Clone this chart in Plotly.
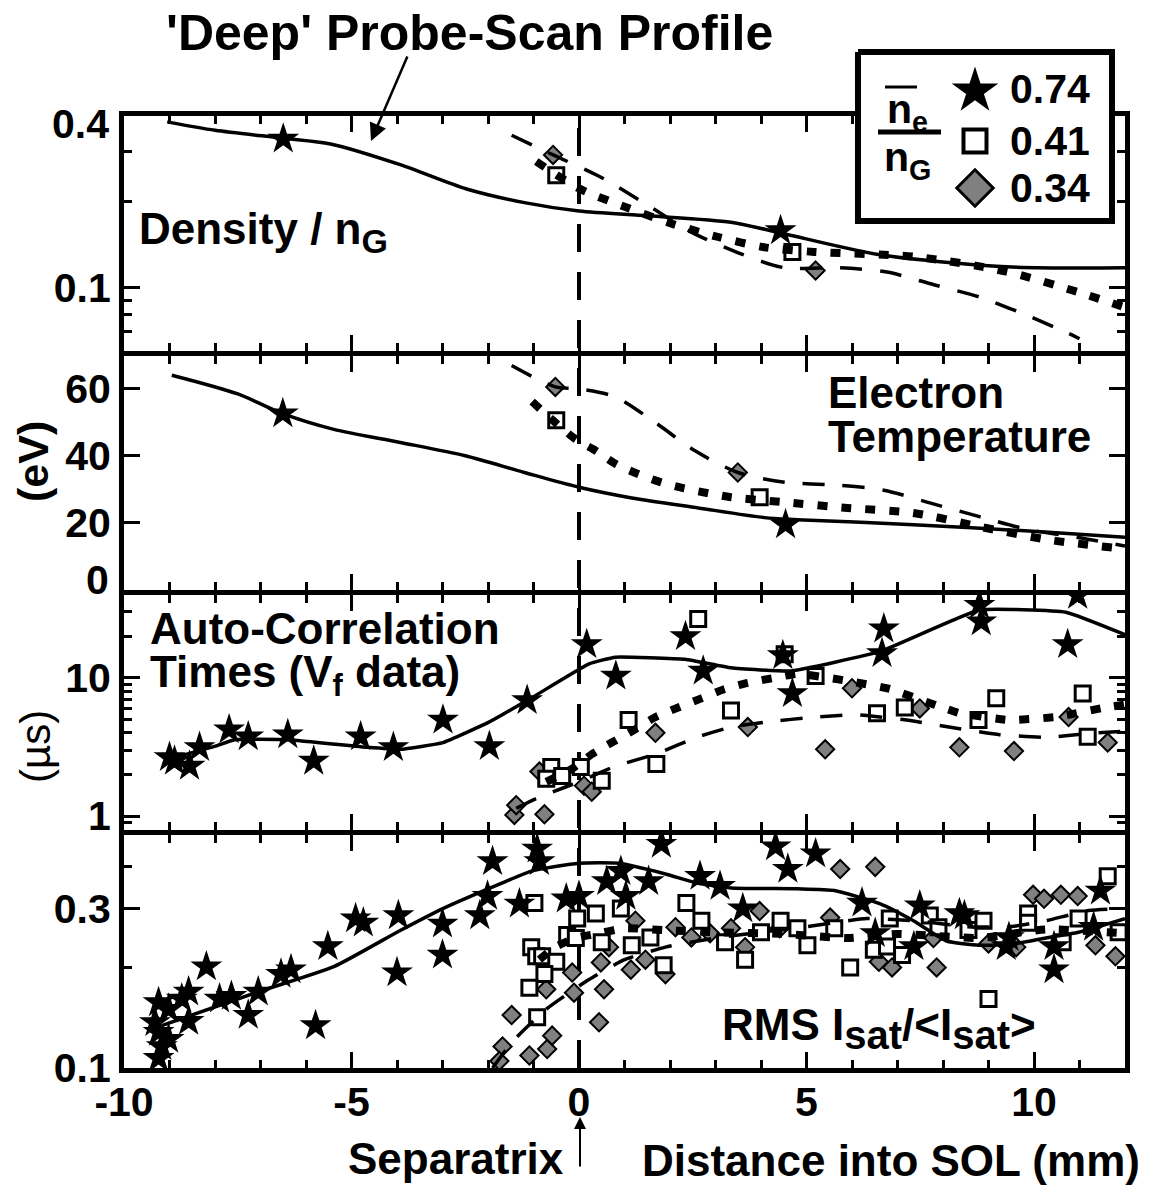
import math
import plotly.graph_objects as go

FONT = "Liberation Sans, Arial, Helvetica, sans-serif"

# ------------------------------------------------------------------ data
X_RANGE = [-10, 12]
X_TICKS = [-10, -5, 0, 5, 10]
X_TICKTEXT = ["-10", "-5", "0", "5", "10"]
SEPARATRIX_X = 0.0
LEGEND_LABELS = ["0.74", "0.41", "0.34"]

# Panel 1: Density / n_G  (log)
p1_star_x = [-6.5, 4.43]
p1_star_y = [0.331, 0.158]
p1_sq_x = [-0.5, 4.69]
p1_sq_y = [0.247, 0.133]
p1_dia_x = [-0.57, 5.2]
p1_dia_y = [0.291, 0.1144]
p1_solid_x = [-9.05, -8.0, -6.5, -5.46, -3.93, -2.47, -1.2, 0.0, 1.53, 3.34, 4.43, 6.62, 9.39, 12.0]
p1_solid_y = [0.38, 0.355, 0.333, 0.318, 0.269, 0.221, 0.198, 0.185, 0.178, 0.169, 0.155, 0.130, 0.118, 0.117]
p1_dot_x = [-0.94, 0.0, 1.02, 2.04, 3.06, 4.08, 5.17, 7.35, 9.39, 10.98, 12.0]
p1_dot_y = [0.276, 0.222, 0.191, 0.167, 0.150, 0.138, 0.133, 0.128, 0.1135, 0.096, 0.085]
p1_dash_x = [-1.48, -0.57, 0.44, 1.6, 2.47, 3.5, 4.52, 5.74, 6.77, 7.8, 8.8, 9.76, 10.76, 11.0]
p1_dash_y = [0.341, 0.291, 0.245, 0.190, 0.156, 0.132, 0.117, 0.117, 0.113, 0.102, 0.0924, 0.0807, 0.0689, 0.066]

# Panel 2: Electron temperature (eV)
p2_star_x = [-6.51, 4.54]
p2_star_y = [52.6, 19.4]
p2_sq_x = [-0.5, 3.97]
p2_sq_y = [50.6, 27.6]
p2_dia_x = [-0.52, 3.49]
p2_dia_y = [60.6, 35.0]
p2_solid_x = [-8.95, -7.5, -6.51, -5.39, -3.93, -2.5, -1.2, 0.0, 1.16, 2.62, 4.08, 4.8, 7.35, 9.98, 12.0]
p2_solid_y = [64.1, 58.5, 52.6, 47.9, 44.0, 40.0, 35.0, 30.6, 27.4, 24.4, 21.5, 20.9, 19.4, 17.4, 15.6]
p2_dot_x = [-1.03, -0.11, 0.37, 0.8, 1.27, 1.79, 2.29, 2.84, 3.34, 4.43, 5.9, 7.35, 8.8, 10.26, 12.0]
p2_dot_y = [56.2, 45.3, 41.5, 37.6, 34.7, 32.1, 30.3, 28.8, 27.6, 26.2, 24.4, 22.9, 18.8, 15.0, 12.1]
p2_dash_x = [-1.48, -0.52, 0.0, 0.8, 1.7, 2.55, 3.49, 4.52, 5.68, 6.7, 7.71, 8.8, 9.89, 11.0, 12.0]
p2_dash_y = [67.0, 60.6, 60.0, 57.6, 49.7, 41.5, 35.0, 32.1, 31.2, 29.7, 25.9, 21.8, 17.9, 15.5, 13.0]

# Panel 3: Auto-correlation times (us)  (log)
p3_star_x = [-9.0, -8.89, -8.56, -8.34, -7.69, -7.27, -6.40, -5.83, -4.80, -4.08, -2.99, -1.97, -1.14,
             0.17, 0.81, 2.34, 2.73, 4.48, 4.69, 6.70, 6.66, 8.80, 8.84, 10.74, 10.96]
p3_star_y = [2.66, 2.50, 2.30, 3.14, 4.21, 3.75, 3.88, 2.50, 3.75, 3.14, 4.95, 3.19, 6.87,
             17.4, 10.3, 19.9, 11.2, 14.5, 7.7, 22.6, 15.0, 33.5, 25.4, 17.4, 39.5]
p3_sq_x = [2.62, 1.09, -0.61, -0.72, -0.37, 0.04, 0.5, 1.7, 3.34, 4.52, 5.2, 6.55, 7.16, 9.17, 8.78, 11.07, 11.18]
p3_sq_y = [26.6, 4.95, 2.26, 1.86, 1.95, 2.26, 1.8, 2.38, 5.8, 14.8, 10.3, 5.55, 6.1, 7.1, 4.95, 7.7, 3.75]
p3_dia_x = [-1.42, -1.38, -0.76, -0.87, 0.11, 0.28, 1.68, 3.71, 6.0, 5.41, 7.49, 8.36, 9.56, 10.76, 11.62]
p3_dia_y = [1.02, 1.2, 1.03, 2.1, 1.66, 1.5, 4.0, 4.4, 8.4, 3.04, 6.0, 3.14, 2.95, 5.2, 3.4]
p3_solid_x = [-9.0, -8.01, -7.57, -6.4, -4.65, -3.93, -2.99, -1.97, -1.03, 0.22, 0.8, 2.33, 3.34, 4.65, 6.62, 8.8, 10.7, 12.0]
p3_solid_y = [2.6, 3.19, 3.57, 3.57, 3.14, 3.04, 3.40, 4.8, 7.2, 12.6, 14.1, 13.6, 11.8, 11.2, 15.5, 30.9, 29.8, 20.5]
p3_dot_x = [-0.72, -0.15, 0.28, 0.72, 1.16, 1.68, 2.18, 2.69, 3.2, 3.71, 4.3, 4.8, 5.9, 6.83, 7.86, 8.36, 9.45, 10.48, 11.57, 12.0]
p3_dot_y = [1.77, 2.2, 2.8, 3.4, 4.1, 5.2, 6.1, 7.1, 8.3, 9.2, 10.0, 10.7, 9.5, 8.3, 6.3, 5.55, 4.95, 5.2, 6.1, 6.4]
p3_dash_x = [-1.38, -0.94, -0.28, 0.15, 0.8, 1.68, 2.62, 3.34, 4.15, 5.17, 6.1, 7.2, 8.23, 9.24, 10.26, 11.35, 12.0]
p3_dash_y = [1.14, 1.34, 1.63, 1.86, 2.3, 2.8, 3.75, 4.4, 4.8, 5.2, 5.4, 4.95, 4.35, 3.88, 3.7, 4.0, 4.1]

# Panel 4: RMS Isat/<Isat>  (log)
p4_star_x = [-9.24, -9.17, -9.24, -9.32, -9.24, -9.02, -9.02, -8.73, -8.58, -8.58, -8.19, -7.90, -7.64, -7.27,
             -7.05, -6.55, -6.33, -5.79, -5.52, -4.91, -4.74, -3.97, -4.0, -3.0, -3.0, -2.18, -2.01, -1.90,
             -1.31, -0.92, -0.87, -0.28, 0.0, 0.61, 0.92, 1.03, 1.53, 1.81, 2.66, 3.10, 3.60, 4.32, 4.59,
             5.20, 6.22, 6.51, 7.49, 7.36, 8.36, 8.47, 9.45, 9.39, 10.44, 10.44, 11.46, 11.31]
p4_star_y = [0.107, 0.116, 0.128, 0.137, 0.157, 0.150, 0.122, 0.161, 0.169, 0.138, 0.201, 0.161, 0.164, 0.144,
             0.169, 0.191, 0.197, 0.134, 0.231, 0.280, 0.272, 0.286, 0.193, 0.270, 0.218, 0.286, 0.327, 0.415,
             0.310, 0.453, 0.415, 0.321, 0.327, 0.362, 0.388, 0.327, 0.362, 0.468, 0.375, 0.350, 0.300, 0.460, 0.394,
             0.438, 0.312, 0.253, 0.306, 0.231, 0.290, 0.286, 0.246, 0.231, 0.231, 0.197, 0.339, 0.264]
p4_sq_x = [-0.98, -1.05, -0.94, -0.81, -0.50, -0.76, -1.09, -0.92, -0.26, -0.07, -0.04, 0.37, 0.50, 0.92, 1.16,
           1.57, 1.86, 2.36, 2.69, 3.21, 3.65, 4.0, 4.43, 4.80, 5.02, 5.61, 5.96, 6.48, 6.77, 6.83, 7.10, 7.71,
           7.90, 8.56, 8.89, 9.0, 9.87, 9.87, 10.63, 10.98, 11.62, 11.86]
p4_sq_y = [0.312, 0.230, 0.216, 0.216, 0.208, 0.191, 0.174, 0.142, 0.250, 0.245, 0.280, 0.290, 0.238, 0.300, 0.233,
           0.246, 0.203, 0.312, 0.276, 0.238, 0.211, 0.255, 0.276, 0.262, 0.233, 0.262, 0.200, 0.226, 0.231, 0.280, 0.218, 0.286,
           0.264, 0.259, 0.276, 0.161, 0.290, 0.272, 0.238, 0.280, 0.375, 0.255]
p4_dia_x = [-1.68, -1.75, -1.48, -1.09, -0.70, -0.59, -0.72, -0.15, -0.11, 0.44, 0.55, 0.48, 0.66, 1.14, 1.24,
            1.46, 1.90, 2.12, 2.47, 2.88, 3.34, 3.65, 3.97, 4.41, 5.74, 6.51, 5.52, 6.59, 6.88, 7.79, 7.86, 9.0,
            9.61, 9.98, 10.22, 10.59, 10.96, 11.35, 11.79]
p4_dia_y = [0.116, 0.105, 0.144, 0.109, 0.114, 0.125, 0.172, 0.193, 0.168, 0.137, 0.172, 0.207, 0.230, 0.197, 0.276,
            0.211, 0.191, 0.264, 0.246, 0.253, 0.262, 0.230, 0.295, 0.262, 0.394, 0.400, 0.282, 0.208, 0.200, 0.245, 0.200, 0.236,
            0.230, 0.330, 0.321, 0.330, 0.327, 0.233, 0.216]
p4_solid_x = [-9.17, -7.05, -5.39, -3.93, -2.99, -1.75, -1.03, 0.0, 0.87, 1.9, 2.62, 3.34, 4.8, 5.61, 6.62, 7.35,
              8.08, 8.8, 9.54, 10.26, 10.98, 12.0]
p4_solid_y = [0.134, 0.169, 0.201, 0.258, 0.300, 0.355, 0.389, 0.410, 0.410, 0.381, 0.357, 0.346, 0.344, 0.340, 0.310, 0.276,
              0.240, 0.233, 0.235, 0.245, 0.255, 0.280]
p4_dot_x = [-0.87, -0.5, -0.07, 0.44, 1.0, 2.0, 3.0, 4.5, 5.9, 7.0, 8.8, 10.26, 12.0]
p4_dot_y = [0.211, 0.231, 0.245, 0.253, 0.262, 0.258, 0.255, 0.252, 0.245, 0.252, 0.245, 0.260, 0.253]
p4_dash_x = [-1.9, -1.46, -0.72, 0.22, 1.0, 1.9, 3.0, 4.0, 5.0, 6.33, 7.5, 8.5, 9.5, 10.26, 11.2, 12.0]
p4_dash_y = [0.100, 0.120, 0.150, 0.184, 0.211, 0.230, 0.245, 0.255, 0.265, 0.280, 0.275, 0.265, 0.265, 0.276, 0.296, 0.300]

# ------------------------------------------------------------------ styles
STAR = dict(symbol="star", size=24, color="black", line=dict(width=0))
SQUARE = dict(symbol="square", size=15, color="white", line=dict(color="black", width=3))
DIAMOND = dict(symbol="diamond", size=14, color="#808080", line=dict(color="black", width=2))
SOLID = dict(color="black", width=3.5)
DOTTED = dict(color="black", width=8, dash="10px,14px")
DASHED = dict(color="black", width=3.5, dash="22px,18px")

fig = go.Figure()

panels = [
    ("x", "y", (p1_star_x, p1_star_y), (p1_sq_x, p1_sq_y), (p1_dia_x, p1_dia_y),
     (p1_solid_x, p1_solid_y), (p1_dot_x, p1_dot_y), (p1_dash_x, p1_dash_y), 0.8),
    ("x2", "y2", (p2_star_x, p2_star_y), (p2_sq_x, p2_sq_y), (p2_dia_x, p2_dia_y),
     (p2_solid_x, p2_solid_y), (p2_dot_x, p2_dot_y), (p2_dash_x, p2_dash_y), 0.8),
    ("x3", "y3", (p3_star_x, p3_star_y), (p3_sq_x, p3_sq_y), (p3_dia_x, p3_dia_y),
     (p3_solid_x, p3_solid_y), (p3_dot_x, p3_dot_y), (p3_dash_x, p3_dash_y), 0.35),
    ("x4", "y4", (p4_star_x, p4_star_y), (p4_sq_x, p4_sq_y), (p4_dia_x, p4_dia_y),
     (p4_solid_x, p4_solid_y), (p4_dot_x, p4_dot_y), (p4_dash_x, p4_dash_y), 0.5),
]

for xa, ya, st, sq, di, so, do, da, sm in panels:
    for (px, py), mk in ((di, DIAMOND), (sq, SQUARE), (st, STAR)):
        fig.add_trace(go.Scatter(x=px, y=py, mode="markers", marker=mk, xaxis=xa, yaxis=ya,
                                 showlegend=False, hoverinfo="skip"))
    for (lx, ly), ls in ((so, SOLID), (do, DOTTED), (da, DASHED)):
        fig.add_trace(go.Scatter(x=lx, y=ly, mode="lines", line=dict(**ls, shape="spline", smoothing=sm),
                                 xaxis=xa, yaxis=ya, showlegend=False, hoverinfo="skip"))

# ---------------------------------------------------------- geometry (pixels)
W, H = 1153, 1188
LW = 5
ML, MR, MT, MB = 124, 28, 0, 120
PW = W - ML - MR
PH = H - MT - MB  # plot-area height in px (top of plot area at y=0)
BOUND = [113, 353, 592, 832]  # centres of panel separating lines (px from top)


def fy(py):
    """pixel-from-top -> paper fraction"""
    return (H - MB - py) / PH


def fx(px):
    return (px - ML) / PW


dom = {
    "y": [fy(BOUND[1] - LW / 2), fy(BOUND[0] + LW / 2)],
    "y2": [fy(BOUND[2] - LW / 2), fy(BOUND[1] + LW / 2)],
    "y3": [fy(BOUND[3] - LW / 2), fy(BOUND[2] + LW / 2)],
    "y4": [0.0, fy(BOUND[3] + LW / 2)],
}

# legend frame + keys (overlay axes in pixel units)
fig.add_trace(go.Scatter(x=[858, 1112, 1112, 858, 858], y=[52, 52, 221, 221, 52], mode="lines",
                         fill="toself", fillcolor="white", line=dict(color="black", width=6),
                         xaxis="x5", yaxis="y5", showlegend=False, hoverinfo="skip"))
leg_y = [91, 141, 188]
for mk, yy in zip((dict(STAR, size=35), dict(SQUARE, size=23, line=dict(color="black", width=4)),
                   dict(DIAMOND, size=28, line=dict(color="black", width=3))), leg_y):
    fig.add_trace(go.Scatter(x=[975], y=[yy], mode="markers", marker=mk, xaxis="x5", yaxis="y5",
                             showlegend=False, hoverinfo="skip", cliponaxis=False))

# ---------------------------------------------------------- axes
tickfont = dict(family=FONT, size=41, color="black", weight="bold")
common_x = dict(range=X_RANGE, tickvals=X_TICKS, ticktext=X_TICKTEXT, ticks="inside", ticklen=16, tickwidth=3,
                tickcolor="black", showline=True, linecolor="black", linewidth=LW, mirror="ticks",
                showgrid=False, zeroline=False, tickfont=tickfont, automargin=False,
                minor=dict(ticks="inside", ticklen=8, tickwidth=3, tickcolor="black", dtick=1, tick0=0))
common_y = dict(ticks="inside", ticklen=16, tickwidth=3, tickcolor="black", showline=True, linecolor="black",
                linewidth=LW, mirror="ticks", showgrid=False, zeroline=False, tickfont=tickfont, automargin=False)
minor_y = dict(ticks="inside", ticklen=8, tickwidth=3, tickcolor="black")

layout = dict(
    width=W, height=H, margin=dict(l=ML, r=MR, t=MT, b=MB, autoexpand=False),
    paper_bgcolor="white", plot_bgcolor="rgba(0,0,0,0)", showlegend=False,
    xaxis=dict(common_x, anchor="y", showticklabels=False),
    xaxis2=dict(common_x, anchor="y2", showticklabels=False, matches="x"),
    xaxis3=dict(common_x, anchor="y3", showticklabels=False, matches="x"),
    xaxis4=dict(common_x, anchor="y4", showticklabels=True, matches="x", ticklabelstandoff=-6),
    yaxis=dict(common_y, anchor="x", domain=dom["y"], type="log", range=[math.log10(0.06), math.log10(0.4)],
               tickvals=[0.1, 0.4], ticktext=["0.1", " "],
               minor=dict(minor_y, tickvals=[0.07, 0.08, 0.09, 0.2, 0.3])),
    yaxis2=dict(common_y, anchor="x2", domain=dom["y2"], range=[0, 70], tickvals=[0, 20, 40, 60],
                ticktext=[" ", "20", "40", "60"]),
    yaxis3=dict(common_y, anchor="x3", domain=dom["y3"], type="log", range=[math.log10(0.8), math.log10(40)],
                tickvals=[1, 10], ticktext=["1", "10"],
                minor=dict(minor_y, tickvals=[0.9, 2, 3, 4, 5, 6, 7, 8, 9, 20, 30])),
    yaxis4=dict(common_y, anchor="x4", domain=dom["y4"], type="log", range=[math.log10(0.1), math.log10(0.5)],
                tickvals=[0.1, 0.3], ticktext=["0.1", "0.3"],
                minor=dict(minor_y, tickvals=[0.2, 0.4])),
    xaxis5=dict(domain=[0, 1], range=[ML, W - MR], visible=False, anchor="y5", fixedrange=True, automargin=False),
    yaxis5=dict(domain=[0, 1], range=[PH, 0], visible=False, anchor="x5", fixedrange=True, automargin=False),
)
fig.update_layout(**layout)

# separatrix
fig.add_shape(type="line", xref="x4", yref="paper", x0=SEPARATRIX_X, x1=SEPARATRIX_X, y0=0, y1=dom["y"][1],
              line=dict(color="black", width=4, dash="28px,20px"), layer="below")

# fraction bar + overline in legend
fig.add_shape(type="line", xref="x5", yref="y5", x0=878, x1=941, y0=132, y1=132, line=dict(color="black", width=5))
fig.add_shape(type="line", xref="x5", yref="y5", x0=885, x1=917, y0=87, y1=87, line=dict(color="black", width=3))


def txt(x, y, text, size=44, xanchor="left", yanchor="middle", weight="bold", angle=0):
    fig.add_annotation(x=fx(x), y=fy(y), xref="paper", yref="paper", text=text, showarrow=False,
                       xanchor=xanchor, yanchor=yanchor, textangle=angle,
                       font=dict(family=FONT, size=size, color="black", weight=weight))


def arrow(x_head, y_head, x_tail, y_tail, width=2.5, size=1.4):
    fig.add_annotation(x=fx(x_head), y=fy(y_head), xref="paper", yref="paper",
                       ax=x_tail - x_head, ay=y_tail - y_head, axref="pixel", ayref="pixel", text="",
                       showarrow=True, arrowhead=2, arrowsize=size, arrowwidth=width, arrowcolor="black")


# tick labels that the original nudges inside the panel
txt(111, 124, "0.4", size=41, xanchor="right")
txt(111, 580, "0", size=41, xanchor="right")

txt(469, 33, "'Deep' Probe-Scan Profile", size=50, xanchor="center")
arrow(371, 141, 408, 55)
txt(137, 232, "Density / n<sub><span style='font-size:34px'>G</span></sub>")
txt(826, 392, "Electron")
txt(826, 437, "Temperature")
txt(33, 462, "(eV)", size=43, xanchor="center", angle=-90)
txt(148, 628, "Auto-Correlation")
txt(148, 675, "Times (V<sub>f</sub> data)")
txt(35, 747, "(µs)", size=42, xanchor="center", angle=-90, weight="normal")
txt(720, 1028, "RMS I<sub><span style='font-size:40px'>sat</span></sub>/&lt;I"
               "<sub><span style='font-size:40px'>sat</span></sub>&gt;")
for yy, lab in zip([89, 141, 188], LEGEND_LABELS):
    txt(1008, yy, lab, size=41)
txt(907, 112, "n<sub>e</sub>", size=41, xanchor="center")
txt(907, 160, "n<sub>G</sub>", size=41, xanchor="center")

txt(566, 1158, "Separatrix", size=44, xanchor="right")
txt(640, 1160, "Distance into SOL (mm)", size=44)
arrow(580, 1117, 580, 1168, width=2, size=1.2)

fig.write_html("out.html")
